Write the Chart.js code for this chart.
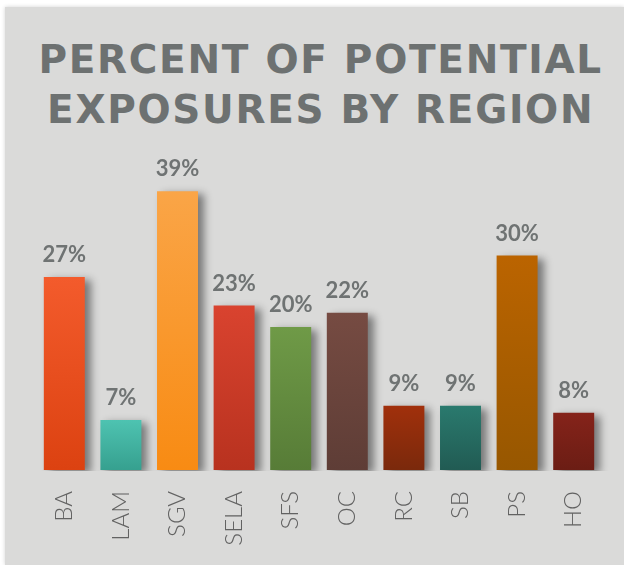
<!DOCTYPE html>
<html>
<head>
<meta charset="utf-8">
<script src="https://cdn.jsdelivr.net/npm/chart.js@4.4.1/dist/chart.umd.min.js"></script>
<style>
  html, body { margin: 0; padding: 0; background: #fff; }
  #wrap { position: relative; width: 624px; height: 565px; overflow: hidden; }
  #panel { position: absolute; left: 5px; top: 7px; right: 0; bottom: 0; background: #dadad9;
           box-shadow: 0 0 4px rgba(0,0,0,0.18); }
  #title { position: absolute; left: 0; top: 35px; width: 638px; text-align: center;
           font-family: "DejaVu Sans", sans-serif; font-weight: bold; font-size: 39px;
           line-height: 50px; letter-spacing: 1.7px; padding-left: 1.7px; color: #6d7171; margin: 0; }
  #chart { position: absolute; left: 0; top: 0; }
</style>
</head>
<body>
<div id="wrap">
  <div id="panel"></div>
  <div id="title">PERCENT OF POTENTIAL<br>EXPOSURES BY REGION</div>
  <canvas id="chart" width="624" height="565"></canvas>
</div>
<script>
// regions and their share of potential exposures (%)
var regions = ['BA','LAM','SGV','SELA','SFS','OC','RC','SB','PS','HO']
var percents = [27, 7, 39, 23, 20, 22, 9, 9, 30, 8]
var topColors = ['#f35b2c','#4ec3b1','#faa547','#d9432f','#6f9a47','#764b42','#a1300c','#2a7a6e','#bb6400','#85231a']
var bottomColors = ['#dc4211','#36a08f','#f88b13','#b8321f','#577c37','#5e3d36','#7a290c','#215b53','#975700','#6b1d14']

function barFill(c) {
  var chart = c.chart
  if (!chart.chartArea || c.type !== 'data') return topColors[c.dataIndex]
  var y = chart.scales.y
  var top = y.getPixelForValue(c.raw)
  var base = y.getPixelForValue(0)
  var g = chart.ctx.createLinearGradient(0, top, 0, base)
  g.addColorStop(0, topColors[c.dataIndex])
  g.addColorStop(1, bottomColors[c.dataIndex])
  return g
}

// shadow behind bars + the % labels above them
var barExtras = {
  id: 'barExtras',
  beforeDatasetsDraw(chart) {
    var ctx = chart.ctx
    ctx.save()
    ctx.beginPath()
    ctx.rect(0, 0, chart.width, chart.chartArea.bottom + 1)
    ctx.clip()
    ctx.shadowColor = 'rgba(0,0,0,0.45)'
    ctx.shadowBlur = 8
    ctx.shadowOffsetX = 6
    ctx.shadowOffsetY = 3
  },
  afterDatasetsDraw(chart) {
    var ctx = chart.ctx
    ctx.restore()
    ctx.save()
    ctx.font = 'bold 22px Lato, sans-serif'
    ctx.fillStyle = '#6f7373'
    ctx.textAlign = 'center'
    ctx.textBaseline = 'alphabetic'
    chart.getDatasetMeta(0).data.forEach(function (bar, i) {
      ctx.fillText(percents[i] + '%', bar.x, bar.y - 15)
    })
    ctx.restore()
  }
}

var ctx = document.getElementById('chart').getContext('2d')
var chart = new Chart(ctx, {
  type: 'bar',
  data: {
    labels: regions,
    datasets: [{
      label: 'Percent',
      data: percents,
      backgroundColor: barFill,
      borderWidth: 0,
      barPercentage: 0.8,
      categoryPercentage: 0.905,
      clip: false
    }]
  },
  options: {
    responsive: false,
    animation: false,
    layout: { padding: { top: 184, left: 36, right: 22, bottom: 0 } },
    plugins: { legend: { display: false }, tooltip: { enabled: false } },
    scales: {
      x: {
        grid: { display: false },
        border: { display: false },
        ticks: {
          autoSkip: false,
          minRotation: 90,
          maxRotation: 90,
          padding: 13,
          color: '#626262',
          font: { family: 'Lato, sans-serif', size: 24, weight: 300 }
        },
        afterFit: function (s) { s.height = 95 }
      },
      y: { display: false, min: 0, max: 40 }
    }
  },
  plugins: [barExtras]
})
</script>
</body>
</html>
